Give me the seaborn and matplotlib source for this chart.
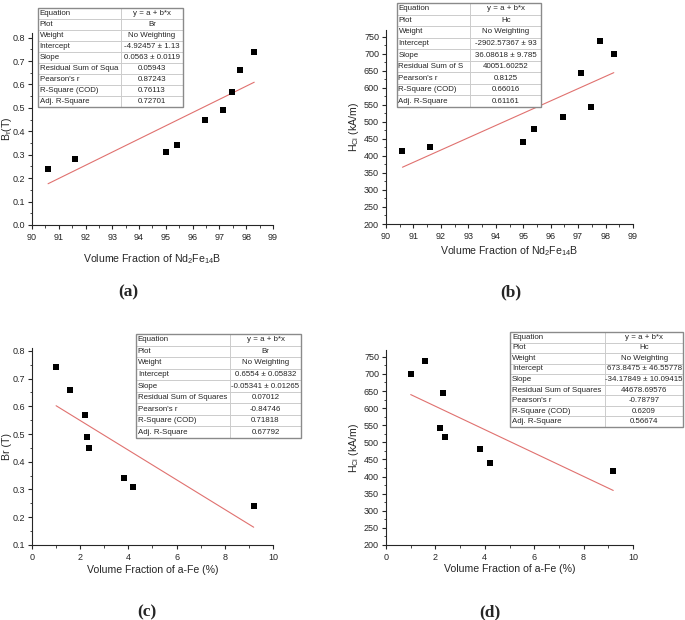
import matplotlib
matplotlib.use("Agg")
import matplotlib.pyplot as plt
import seaborn as sns
import numpy as np
import pandas as pd
from matplotlib.ticker import AutoMinorLocator, MultipleLocator

# measured data
nd_frac = [90.6, 91.6, 95.0, 95.4, 96.45, 97.12, 97.48, 97.78, 98.3]
br_nd = [0.24, 0.28, 0.31, 0.34, 0.45, 0.49, 0.57, 0.66, 0.74]
hc_nd = [415, 427, 440, 480, 515, 643, 543, 738, 700]

fe_frac = [1.0, 1.58, 2.2, 2.3, 2.38, 3.8, 4.2, 9.2]
br_fe = [0.74, 0.66, 0.57, 0.49, 0.45, 0.34, 0.31, 0.24]
hc_fe = [700, 738, 543, 643, 515, 480, 440, 415]

# linear fit coefficients (intercept, slope) from the fit tables
fit_a = (-4.92457, 0.0563)
fit_b = (-2902.57367, 36.08618)
fit_c = (0.6554, -0.05341)
fit_d = (673.8475, -34.17849)

row_names = ["Equation", "Plot", "Weight", "Intercept", "Slope",
             "Residual Sum of Squares", "Pearson's r", "R-Square (COD)", "Adj. R-Square"]
table_a = ["y = a + b*x", "Br", "No Weighting", "-4.92457 \u00b1 1.13", "0.0563 \u00b1 0.0119",
           "0.05943", "0.87243", "0.76113", "0.72701"]
table_b = ["y = a + b*x", "Hc", "No Weighting", "-2902.57367 \u00b1 93", "36.08618 \u00b1 9.785",
           "40051.60252", "0.8125", "0.66016", "0.61161"]
table_c = ["y = a + b*x", "Br", "No Weighting", "0.6554 \u00b1 0.05832", "-0.05341 \u00b1 0.01265",
           "0.07012", "-0.84746", "0.71818", "0.67792"]
table_d = ["y = a + b*x", "Hc", "No Weighting", "673.8475 \u00b1 46.55778", "-34.17849 \u00b1 10.09415",
           "44678.69576", "-0.78797", "0.6209", "0.56674"]

sns.set_style("ticks")
plt.rcParams["font.family"] = ["Liberation Sans", "DejaVu Sans"]
plt.rcParams["mathtext.default"] = "regular"
plt.rcParams["xtick.labelsize"] = 6.5
plt.rcParams["ytick.labelsize"] = 6.5
plt.rcParams["xtick.major.size"] = 3
plt.rcParams["ytick.major.size"] = 3
plt.rcParams["xtick.minor.size"] = 1.8
plt.rcParams["ytick.minor.size"] = 1.8
plt.rcParams["xtick.major.pad"] = 2.5
plt.rcParams["ytick.major.pad"] = 2.0
plt.rcParams["axes.linewidth"] = 0.8

fig = plt.figure(figsize=(6.85, 6.2), dpi=100)


def panel(rect, x, y, fit, xlim, ylim, xmaj, ymaj, xlabel, ylabel, xl_pos, yl_pos):
    ax = fig.add_axes(rect)
    df = pd.DataFrame({"x": x, "y": y})
    sns.scatterplot(data=df, x="x", y="y", marker="s", s=16, color="black",
                    edgecolor="black", linewidth=0, ax=ax, zorder=3)
    xs = np.array([min(x), max(x)])
    sns.lineplot(x=xs, y=fit[0] + fit[1] * xs, color="#e0716f", linewidth=0.8, ax=ax)
    ax.set_xlim(*xlim)
    ax.set_ylim(*ylim)
    ax.xaxis.set_major_locator(MultipleLocator(xmaj))
    ax.yaxis.set_major_locator(MultipleLocator(ymaj))
    ax.xaxis.set_minor_locator(AutoMinorLocator(2))
    ax.yaxis.set_minor_locator(AutoMinorLocator(2))
    sns.despine(ax=ax)
    ax.set_xlabel(xlabel, fontsize=7.6)
    ax.set_ylabel(ylabel, fontsize=7.6)
    ax.xaxis.set_label_coords(0.5, xl_pos)
    ax.yaxis.set_label_coords(yl_pos, 0.5)
    return ax


def fit_table(rect, values, names, split):
    tax = fig.add_axes(rect)
    tax.axis("off")
    cells = [[n, v] for n, v in zip(names, values)]
    tb = tax.table(cellText=cells, bbox=[0, 0, 1, 1], colWidths=[split, 1 - split],
                   cellLoc="center")
    tb.auto_set_font_size(False)
    for (r, c), cell in tb.get_celld().items():
        cell.set_edgecolor("#c8c8c8")
        cell.set_linewidth(0.6)
        cell.get_text().set_fontsize(5.7)
        cell.PAD = 0.02
        if c == 0:
            cell.get_text().set_ha("left")
            cell._loc = "left"
        else:
            cell.get_text().set_ha("center")
            cell._loc = "center"
    tax.add_patch(plt.Rectangle((0, 0), 1, 1, transform=tax.transAxes, fill=False,
                                edgecolor="#8a8a8a", linewidth=1.0, clip_on=False))


xl_nd = "Volume Fraction of Nd$_2$Fe$_{14}$B"
xl_fe = "Volume Fraction of a-Fe (%)"
yl_hc = "H$_{Ci}$ (kA/m)"

panel([0.0467, 0.6371, 0.3518, 0.3097], nd_frac, br_nd, fit_a, (90, 99), (0, 0.82),
      1, 0.1, xl_nd, "B$_r$(T)", -0.141, -0.076)
panel([0.5635, 0.6387, 0.3606, 0.3129], nd_frac, hc_nd, fit_b, (90, 99), (200, 770),
      1, 50, xl_nd, yl_hc, -0.103, -0.101)
panel([0.0467, 0.1210, 0.3518, 0.3177], fe_frac, br_fe, fit_c, (0, 10), (0.1, 0.81),
      2, 0.1, xl_fe, "Br (T)", -0.10, -0.085)
panel([0.5635, 0.1210, 0.3606, 0.3145], fe_frac, hc_fe, fit_d, (0, 10), (200, 770),
      2, 50, xl_fe, yl_hc, -0.10, -0.101)

names_short_a = row_names[:5] + ["Residual Sum of Squa"] + row_names[6:]
names_short_b = row_names[:5] + ["Residual Sum of S"] + row_names[6:]
fit_table([0.0555, 0.8274, 0.2117, 0.1597], table_a, names_short_a, 0.57)
fit_table([0.5796, 0.8274, 0.2102, 0.1677], table_b, names_short_b, 0.51)
fit_table([0.1985, 0.2935, 0.2409, 0.1677], table_c, row_names, 0.57)
fit_table([0.7445, 0.3113, 0.2526, 0.1532], table_d, row_names, 0.55)

for lbl, (x, y) in zip(["(a)", "(b)", "(c)", "(d)"],
                       [(0.187, 0.529), (0.745, 0.529), (0.215, 0.012), (0.715, 0.013)]):
    fig.text(x, y, lbl, ha="center", va="center", fontsize=12.5, fontweight="bold",
             family=["Liberation Serif", "DejaVu Serif"])

fig.savefig("out.png", dpi=100)
